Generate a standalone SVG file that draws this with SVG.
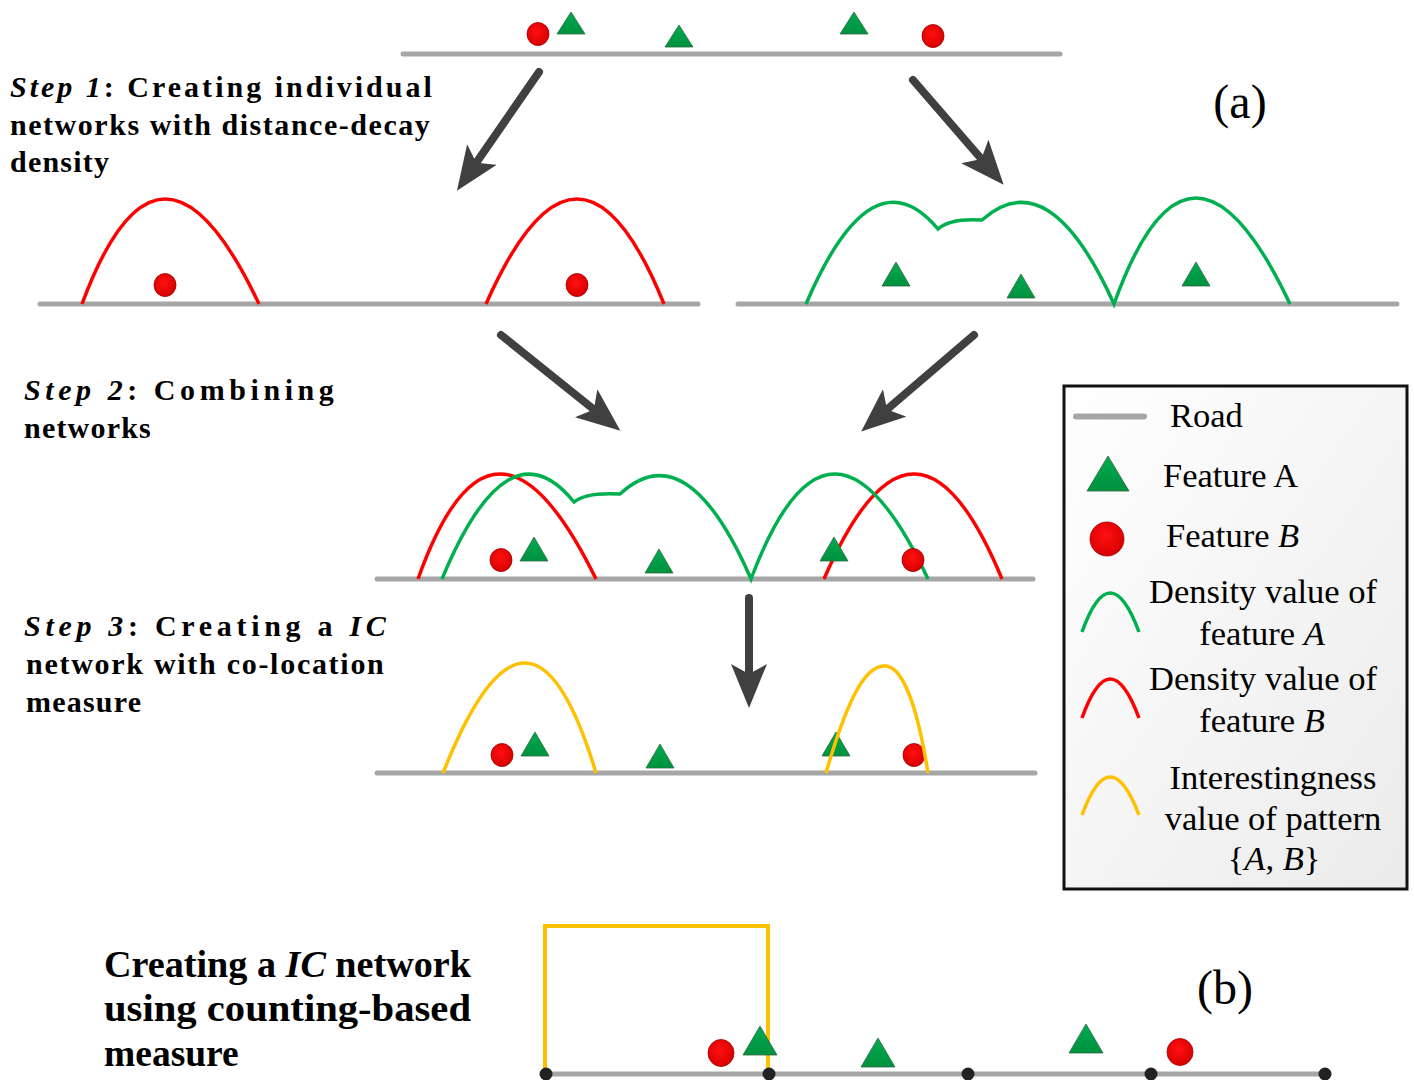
<svg xmlns="http://www.w3.org/2000/svg" width="1414" height="1080" viewBox="0 0 1414 1080">
<style>
.road{stroke:#a6a6a6;stroke-width:5;stroke-linecap:round;fill:none}
.cr{stroke:#ff0000;stroke-width:3.5;fill:none}
.cg{stroke:#00b050;stroke-width:3.5;fill:none}
.cy{stroke:#ffc000;stroke-width:3.5;fill:none}
.dot{fill:url(#rg);stroke:#a00000;stroke-width:0.8}
.tri{fill:url(#gg);stroke:#2f6b40;stroke-width:0.8}
.arr{stroke:#404040;stroke-width:8;stroke-linecap:round;fill:none;marker-end:url(#ah)}
.step{font-family:"Liberation Serif","Times New Roman",serif;font-weight:bold;font-size:30px;letter-spacing:1.2px;fill:#000}
.leg{font-family:"Liberation Serif","Times New Roman",serif;font-size:34.5px;fill:#000}
.node{fill:#222}
</style>
<defs>
<radialGradient id="rg" cx="0.45" cy="0.4" r="0.6">
<stop offset="0" stop-color="#ff1010"/>
<stop offset="1" stop-color="#d80000"/>
</radialGradient>
<linearGradient id="gg" x1="0" y1="0" x2="0" y2="1">
<stop offset="0" stop-color="#00aa50"/>
<stop offset="1" stop-color="#00913f"/>
</linearGradient>
<linearGradient id="lg" x1="0" y1="0" x2="1" y2="1">
<stop offset="0" stop-color="#ffffff"/>
<stop offset="1" stop-color="#ebebeb"/>
</linearGradient>
<marker id="ah" viewBox="0 0 44 36" refX="14" refY="18" markerWidth="44" markerHeight="36" markerUnits="userSpaceOnUse" orient="auto">
<path d="M44,18 L0,0 L10,18 L0,36 Z" fill="#404040"/>
</marker>
</defs>
<rect width="1414" height="1080" fill="#ffffff"/>

<g id="top-network">
<line class="road" x1="403" y1="54" x2="1060" y2="54"/>
<ellipse class="dot" cx="538" cy="34" rx="11" ry="11.5"/>
<polygon class="tri" points="557,34 571,12 585,34"/>
<polygon class="tri" points="665,47 679,25 693,47"/>
<polygon class="tri" points="840,34 854,12 868,34"/>
<ellipse class="dot" cx="933" cy="36" rx="11" ry="11.5"/>
</g>

<g id="label-a"><text x="1240" y="118" text-anchor="middle" font-family="Liberation Serif, serif" font-size="48">(a)</text></g>

<g id="step1-text" class="step">
<text x="10" y="97" textLength="423" lengthAdjust="spacing"><tspan font-style="italic">Step 1</tspan>: Creating individual</text>
<text x="10" y="135" textLength="421" lengthAdjust="spacing">networks with distance-decay</text>
<text x="10" y="172">density</text>
</g>

<g id="network-B">
<line class="road" x1="40" y1="304" x2="698" y2="304"/>
<path class="cr" d="M82,304 Q160,94 259,304"/>
<path class="cr" d="M486,304 Q579,94 664,304"/>
<ellipse class="dot" cx="165" cy="285" rx="11" ry="11.5"/>
<ellipse class="dot" cx="577" cy="285" rx="11" ry="11.5"/>
</g>

<g id="network-A">
<line class="road" x1="738" y1="304" x2="1397" y2="304"/>
<path class="cg" d="M806,304 Q872,150 938,229 Q950,218 982,220 Q1049,160 1114,304 Q1190,92 1290,304"/>
<polygon class="tri" points="882,286 896,262 910,286"/>
<polygon class="tri" points="1007,298 1021,274 1035,298"/>
<polygon class="tri" points="1182,286 1196,262 1210,286"/>
</g>

<g id="step2-text" class="step">
<text x="24" y="400" textLength="311" lengthAdjust="spacing"><tspan font-style="italic">Step 2</tspan>: Combining</text>
<text x="24" y="438">networks</text>
</g>

<g id="combined-network">
<line class="road" x1="377" y1="579" x2="1033" y2="579"/>
<path class="cr" d="M418,579 Q493,369 596,579"/>
<path class="cr" d="M824,579 Q915,369 1002,579"/>
<path class="cg" d="M442,579 Q508,420 574,502 Q586,492 620,494 Q687,432 751,579 Q830,369 928,579"/>
<ellipse class="dot" cx="501" cy="560" rx="11" ry="11.5"/>
<polygon class="tri" points="520,561 534,537 548,561"/>
<polygon class="tri" points="645,573 659,549 673,573"/>
<polygon class="tri" points="820,561 834,537 848,561"/>
<ellipse class="dot" cx="913" cy="560" rx="11" ry="11.5"/>
</g>

<g id="step3-text" class="step">
<text x="24" y="636" textLength="363" lengthAdjust="spacing"><tspan font-style="italic">Step 3</tspan>: Creating a <tspan font-style="italic">IC</tspan></text>
<text x="26" y="674" textLength="359" lengthAdjust="spacing">network with co-location</text>
<text x="26" y="712">measure</text>
</g>

<g id="ic-network">
<line class="road" x1="377" y1="773" x2="1035" y2="773"/>
<ellipse class="dot" cx="502" cy="755" rx="11" ry="11.5"/>
<polygon class="tri" points="521,756 535,732 549,756"/>
<polygon class="tri" points="646,768 660,744 674,768"/>
<polygon class="tri" points="822,756 836,732 850,756"/>
<ellipse class="dot" cx="914" cy="755" rx="11" ry="11.5"/>
<path class="cy" d="M443,773 Q530,553 596,773"/>
<path class="cy" d="M826,773 C850,690 868,664 886,666 C904,668 918,710 928,773"/>
</g>

<g id="connectors">
<line class="arr" x1="539" y1="72" x2="474" y2="166"/>
<line class="arr" x1="913" y1="80" x2="984" y2="162"/>
<line class="arr" x1="501" y1="335" x2="597" y2="412"/>
<line class="arr" x1="974" y1="335" x2="884" y2="412"/>
<line class="arr" x1="749" y1="598" x2="749" y2="678"/>
</g>

<g id="legend">
<rect x="1064" y="386" width="343" height="503" fill="url(#lg)" stroke="#111" stroke-width="3"/>
<line x1="1076" y1="416.5" x2="1144" y2="416.5" stroke="#a6a6a6" stroke-width="6" stroke-linecap="round"/>
<text class="leg" x="1170" y="427">Road</text>
<polygon class="tri" points="1087,491 1108,456 1129,491"/>
<text class="leg" x="1163" y="487">Feature A</text>
<circle class="dot" cx="1107" cy="539" r="17"/>
<text class="leg" x="1166" y="547">Feature <tspan font-style="italic">B</tspan></text>
<path class="cg" d="M1082,632 Q1110,554 1139,632"/>
<text class="leg" x="1263" y="603" text-anchor="middle">Density value of</text>
<text class="leg" x="1262" y="645" text-anchor="middle">feature <tspan font-style="italic">A</tspan></text>
<path class="cr" d="M1082,718 Q1110,640 1139,718"/>
<text class="leg" x="1263" y="690" text-anchor="middle">Density value of</text>
<text class="leg" x="1262" y="732" text-anchor="middle">feature <tspan font-style="italic">B</tspan></text>
<path class="cy" d="M1082,815 Q1110,739 1139,815"/>
<text class="leg" x="1273" y="789" text-anchor="middle">Interestingness</text>
<text class="leg" x="1273" y="830" text-anchor="middle">value of pattern</text>
<text class="leg" x="1274" y="870" text-anchor="middle">{<tspan font-style="italic">A</tspan>, <tspan font-style="italic">B</tspan>}</text>
</g>

<g id="part-b-text" font-family="Liberation Serif, serif" font-weight="bold" font-size="37.5">
<text x="104" y="977" textLength="367" lengthAdjust="spacingAndGlyphs">Creating a <tspan font-style="italic">IC</tspan> network</text>
<text x="104" y="1021" textLength="367" lengthAdjust="spacingAndGlyphs">using counting-based</text>
<text x="104" y="1066">measure</text>
</g>

<g id="label-b"><text x="1225" y="1004" text-anchor="middle" font-family="Liberation Serif, serif" font-size="48">(b)</text></g>

<g id="counting-network">
<line class="road" x1="545" y1="1074" x2="1326" y2="1074"/>
<path d="M545,1074 L545,926 L768,926 L768,1074" fill="none" stroke="#ffc000" stroke-width="4"/>
<ellipse class="dot" cx="721" cy="1053" rx="13" ry="13.5"/>
<polygon class="tri" points="743,1055 760,1026 777,1055"/>
<polygon class="tri" points="861,1067 878,1038 895,1067"/>
<polygon class="tri" points="1069,1053 1086,1024 1103,1053"/>
<ellipse class="dot" cx="1180" cy="1052" rx="13" ry="13.5"/>
<circle class="node" cx="546" cy="1074" r="6.5"/>
<circle class="node" cx="769" cy="1074" r="6.5"/>
<circle class="node" cx="968" cy="1074" r="6.5"/>
<circle class="node" cx="1151" cy="1074" r="6.5"/>
<circle class="node" cx="1325" cy="1074" r="6.5"/>
</g>
</svg>
